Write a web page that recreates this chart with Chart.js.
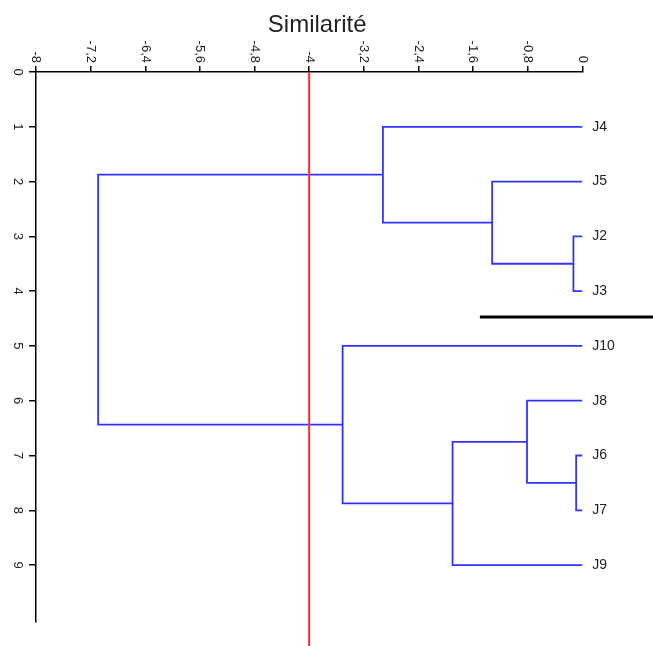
<!DOCTYPE html>
<html><head><meta charset="utf-8">
<script src="https://cdn.jsdelivr.net/npm/chart.js@4.4.1/dist/chart.umd.min.js"></script>
<style>html,body{margin:0;padding:0;background:#fff}#wrap{width:653px;height:646px}</style>
</head><body><div id="wrap"><canvas id="c" width="653" height="646"></canvas></div>
<script>
// ---- data ----
const leafLabels = ['J4','J5','J2','J3','J10','J8','J6','J7','J9'];
const leafRows   = [1,2,3,4,5,6,7,8,9];
const mergeNames = ['M0','M1','M2','M3','M4','M5','M6','M7'];
const mergeLeft  = ['J2','J6','J8','J5','J9','J4','J10','M5'];
const mergeRight = ['J3','J7','M1','M0','M2','M3','M4','M6'];
const mergeLevel = [-0.13,-0.09,-0.81,-1.32,-1.90,-2.92,-3.51,-7.09];
const xTickValues = [-8,-7.2,-6.4,-5.6,-4.8,-4,-3.2,-2.4,-1.6,-0.8,0];
const yTickValues = [0,1,2,3,4,5,6,7,8,9];
const cutLevel = -4;
const cutSpan = [0, 10.6];
const markRow = 4.47;
const markSpan = [-1.5, 1.1];
const axisTitle = 'Similarité';

// ---- build node table ----
const nodes = {};
leafLabels.forEach((l,i)=>{ nodes[l] = {lvl:0, row:leafRows[i]}; });
const datasets = [];
datasets.push({data:[{x:cutLevel,y:cutSpan[0]},{x:cutLevel,y:cutSpan[1]}],
  borderColor:'rgb(255,45,45)', borderWidth:2, order:0});
datasets.push({data:[{x:markSpan[0],y:markRow},{x:markSpan[1],y:markRow}],
  borderColor:'#000', borderWidth:3, order:1});
mergeNames.forEach((m,i)=>{
  const a = nodes[mergeLeft[i]], b = nodes[mergeRight[i]], h = mergeLevel[i];
  nodes[m] = {lvl:h, row:(a.row+b.row)/2};
  datasets.push({data:[{x:a.lvl,y:a.row},{x:h,y:a.row},{x:h,y:b.row},{x:b.lvl,y:b.row}],
    borderColor:'rgb(50,50,255)', borderWidth:1.8, order:2});
});
datasets.forEach(d=>{ d.showLine=true; d.pointRadius=0; d.clip=false; d.fill=false;
  d.borderCapStyle='butt'; d.borderJoinStyle='miter'; d.tension=0; });

const fmt = v => String(Math.round(v*10)/10).replace('.', ',');
const FONT = '"Liberation Sans", Arial, sans-serif';

const textPlugin = {
  id:'texts',
  afterDraw(chart){
    const ctx = chart.ctx, xs = chart.scales.x, ys = chart.scales.y;
    ctx.save();
    ctx.fillStyle = '#222';
    ctx.font = '24px ' + FONT;
    ctx.textAlign = 'center'; ctx.textBaseline = 'alphabetic';
    ctx.fillText(axisTitle, (chart.chartArea.left+chart.chartArea.right)/2 + 8, 32);
    ctx.font = '13px ' + FONT;
    xTickValues.forEach(v=>{
      const px = xs.getPixelForValue(v);
      ctx.save(); ctx.translate(px, xs.bottom - 9); ctx.rotate(Math.PI/2);
      ctx.textAlign='right'; ctx.textBaseline='middle';
      ctx.fillText(fmt(v),0,0); ctx.restore();
    });
    yTickValues.forEach(v=>{
      const py = ys.getPixelForValue(v);
      ctx.save(); ctx.translate(17.5, py); ctx.rotate(Math.PI/2);
      ctx.textAlign='center'; ctx.textBaseline='middle';
      ctx.fillText(fmt(v),0,0); ctx.restore();
    });
    ctx.font = '14px ' + FONT;
    ctx.textAlign='left'; ctx.textBaseline='middle';
    leafLabels.forEach((l,i)=>{
      ctx.fillText(l, xs.getPixelForValue(0)+10, ys.getPixelForValue(leafRows[i]));
    });
    ctx.restore();
  }
};

new Chart(document.getElementById('c'), {
  type:'scatter',
  data:{datasets},
  options:{
    responsive:false, animation:false,
    layout:{padding:{left:0,top:0,right:70.7,bottom:24.5}},
    plugins:{legend:{display:false}, tooltip:{enabled:false}, title:{display:false}},
    scales:{
      x:{type:'linear', position:'top', min:-8, max:0,
        afterBuildTicks:s=>{ s.ticks = xTickValues.map(v=>({value:v})); },
        afterFit:s=>{ s.height = 72; },
        ticks:{display:false},
        grid:{display:true, drawOnChartArea:false, drawTicks:true, tickLength:6, color:'#000', lineWidth:1.5},
        border:{display:true, color:'#000', width:1.5}},
      y:{type:'linear', position:'left', reverse:true, min:0, max:10.03,
        afterBuildTicks:s=>{ s.ticks = yTickValues.map(v=>({value:v})); },
        afterFit:s=>{ s.width = 36; },
        ticks:{display:false},
        grid:{display:true, drawOnChartArea:false, drawTicks:true, tickLength:7, color:'#000', lineWidth:1.5},
        border:{display:true, color:'#000', width:1.5}}
    }
  },
  plugins:[textPlugin]
});
</script></body></html>
